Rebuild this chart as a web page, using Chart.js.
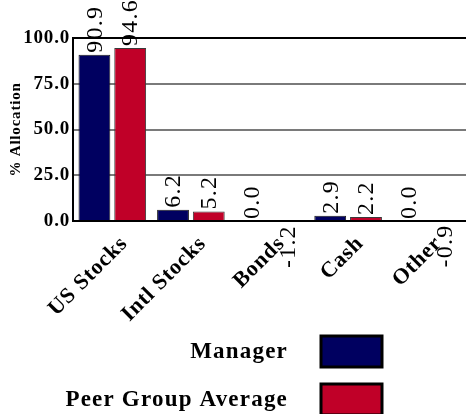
<!DOCTYPE html>
<html>
<head>
<meta charset="utf-8">
<script src="https://cdn.jsdelivr.net/npm/chart.js@4/dist/chart.umd.min.js"></script>
<style>
  html, body { margin: 0; padding: 0; background: #fff; }
  #wrap { width: 466px; height: 414px; }
</style>
</head>
<body>
<div id="wrap"><canvas id="chart"></canvas></div>
<script>
// data
var categories = ['US Stocks', 'Intl Stocks', 'Bonds', 'Cash', 'Other'];
var managerValues = [90.9, 6.2, 0.0, 2.9, 0.0];
var peerValues = [94.6, 5.2, -1.2, 2.2, -0.9];
var seriesNames = ['Manager', 'Peer Group Average'];
var yTicks = [0, 25, 50, 75, 100];

var SERIF = '"Liberation Serif", "Times New Roman", serif';

// the original type is set a little wider than Times, so open it up a bit
var spacing = {
  id: 'spacing',
  beforeDraw: function (chart) { chart.ctx.letterSpacing = '0.8px'; }
};

// rotated value labels at the end of each bar
var valueLabels = {
  id: 'valueLabels',
  afterDatasetsDraw: function (chart) {
    var ctx = chart.ctx;
    var area = chart.chartArea;
    ctx.save();
    ctx.font = '24px ' + SERIF;
    ctx.letterSpacing = '1.2px';
    ctx.fillStyle = '#000';
    ctx.textBaseline = 'middle';
    chart.data.datasets.forEach(function (ds, i) {
      chart.getDatasetMeta(i).data.forEach(function (bar, j) {
        var v = ds.data[j];
        ctx.save();
        if (v >= 0) {
          ctx.translate(bar.x, bar.y - 2);
          ctx.textAlign = 'left';
        } else {
          ctx.translate(bar.x, bar.y + 2);
          ctx.textAlign = 'right';
        }
        ctx.rotate(-Math.PI / 2);
        ctx.fillText(v.toFixed(1), 0, 1);
        ctx.restore();
      });
    });
    // the top frame line sits over the labels in the original
    ctx.strokeStyle = '#000';
    ctx.lineWidth = 2;
    ctx.beginPath();
    ctx.moveTo(area.left, area.top);
    ctx.lineTo(area.right, area.top);
    ctx.stroke();
    ctx.restore();
  }
};

// legend: text on the left, big boxed swatch on the right, one per line
var boxLegend = {
  id: 'boxLegend',
  afterDraw: function (chart) {
    var ctx = chart.ctx;
    ctx.save();
    ctx.font = 'bold 23px ' + SERIF;
    ctx.letterSpacing = '1.2px';
    ctx.textAlign = 'right';
    ctx.textBaseline = 'middle';
    chart.data.datasets.forEach(function (ds, i) {
      var cy = 351 + i * 48;
      ctx.fillStyle = '#000';
      ctx.fillText(ds.label, 288, cy + 1);
      ctx.fillStyle = ds.backgroundColor;
      ctx.fillRect(321, cy - 15, 61, 31);
      ctx.lineWidth = 3;
      ctx.strokeStyle = '#000';
      ctx.strokeRect(321, cy - 15, 61, 31);
    });
    ctx.restore();
  }
};

new Chart(document.getElementById('chart'), {
  type: 'bar',
  data: {
    labels: categories,
    datasets: [
      { label: seriesNames[0], data: managerValues, backgroundColor: '#000060', borderColor: '#1a1a1a', borderWidth: 1 },
      { label: seriesNames[1], data: peerValues, backgroundColor: '#C00028', borderColor: '#3a3a3a', borderWidth: 1 }
    ]
  },
  options: {
    responsive: true,
    maintainAspectRatio: false,
    animation: false,
    layout: { padding: { top: 38, right: 0, bottom: 0, left: 0 } },
    datasets: { bar: { categoryPercentage: 0.91, barPercentage: 0.89 } },
    plugins: {
      legend: { display: false },
      tooltip: { enabled: false }
    },
    scales: {
      x: {
        grid: { display: false },
        border: { color: '#000', width: 2 },
        ticks: {
          color: '#000',
          font: { family: SERIF, size: 22, weight: 'bold' },
          maxRotation: 45,
          minRotation: 45,
          labelOffset: 12,
          padding: 2
        },
        afterFit: function (s) { s.height = 193; }
      },
      y: {
        min: 0,
        max: 100,
        afterBuildTicks: function (s) { s.ticks = yTicks.map(function (v) { return { value: v }; }); },
        grid: {
          color: function (c) { return c.tick && c.tick.value === 100 ? '#000' : '#7a7a7a'; },
          lineWidth: 2,
          drawTicks: false
        },
        border: { color: '#000', width: 2 },
        ticks: {
          color: '#000',
          padding: 3,
          font: { family: SERIF, size: 19, weight: 'bold' },
          callback: function (v) { return Number(v).toFixed(1); }
        },
        title: {
          display: true,
          text: '% Allocation',
          color: '#000',
          font: { family: SERIF, size: 15, weight: 'bold' },
          padding: { top: 7, bottom: 0 }
        },
        afterFit: function (s) { s.width = 73; }
      }
    }
  },
  plugins: [spacing, valueLabels, boxLegend]
});
</script>
</body>
</html>
